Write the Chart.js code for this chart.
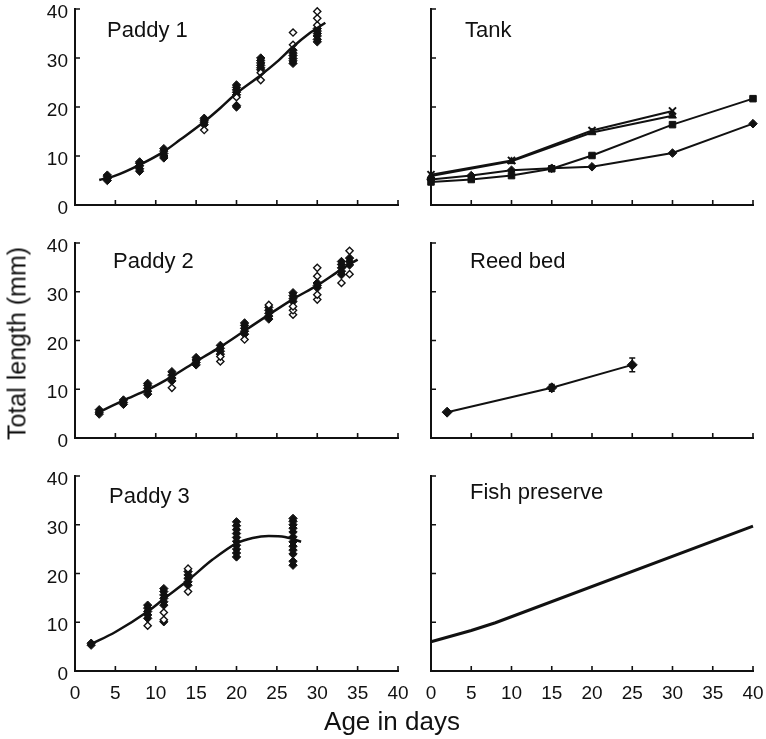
<!DOCTYPE html>
<html><head><meta charset="utf-8">
<script src="https://cdn.jsdelivr.net/npm/chart.js@4.4.0/dist/chart.umd.min.js"></script>
<style>
html,body{margin:0;padding:0;background:#fff;}
#wrap{position:relative;width:766px;height:739px;overflow:hidden;font-family:'Liberation Sans',Arial,Helvetica,sans-serif;color:#111;}
canvas{position:absolute;}
.lbl{position:absolute;font-size:22px;white-space:nowrap;line-height:1;}
.ax{position:absolute;white-space:nowrap;line-height:1;text-align:center;}
</style></head><body>
<div id="wrap">
<canvas id="p1" width="410" height="215" style="left:0;top:0"></canvas>
<canvas id="t1" width="356" height="215" style="left:410px;top:0"></canvas>
<canvas id="p2" width="410" height="220" style="left:0;top:228px"></canvas>
<canvas id="r1" width="356" height="220" style="left:410px;top:228px"></canvas>
<canvas id="p3" width="410" height="279" style="left:0;top:460px"></canvas>
<canvas id="f1" width="356" height="279" style="left:410px;top:460px"></canvas>
<div class="lbl" style="left:107px;top:19px">Paddy 1</div>
<div class="lbl" style="left:465px;top:19px">Tank</div>
<div class="lbl" style="left:113px;top:250px">Paddy 2</div>
<div class="lbl" style="left:470px;top:250px">Reed bed</div>
<div class="lbl" style="left:109px;top:485px">Paddy 3</div>
<div class="lbl" style="left:470px;top:481px">Fish preserve</div>
<div class="ax" style="left:242px;top:708px;width:300px;font-size:26px">Age in days</div>
<div class="ax" style="left:-133px;top:331px;width:300px;font-size:25px;transform:rotate(-90deg)">Total length (mm)</div>
</div>
<script>
// ---- tick labels ----
const xTicks = [0, 5, 10, 15, 20, 25, 30, 35, 40];
const yTicks = [0, 10, 20, 30, 40];

// ---- Paddy 1 ----
const paddy1FitDays = [3, 5, 8, 11, 13, 16, 18, 20, 23, 25, 27, 29, 31];
const paddy1FitLen  = [5.1, 6.0, 8.2, 10.9, 13.3, 17.0, 19.8, 22.8, 26.5, 29.2, 32.3, 35.0, 37.2];
const paddy1Days    = [4, 8, 11, 16, 20, 23, 27, 30];
const paddy1Filled  = [[5.0, 5.4, 5.8, 6.1], [6.9, 7.4, 8.0, 8.5, 8.8], [9.6, 10.0, 10.5, 11.0, 11.5],
                       [16.4, 16.9, 17.3, 17.7], [20.0, 20.3, 22.5, 23.0, 23.5, 24.0, 24.5],
                       [27.6, 28.0, 28.5, 29.0, 29.5, 30.0], [28.9, 29.4, 29.9, 30.5, 31.0, 31.6],
                       [33.3, 33.8, 34.5, 35.0, 35.5, 36.0]];
const paddy1Open    = [[], [], [], [15.3], [22.0], [25.5, 27.0], [32.7, 35.2], [36.7, 38.1, 39.5]];

// ---- Paddy 2 ----
const paddy2FitDays = [3, 6, 9, 12, 15, 18, 21, 24, 27, 30, 33, 35];
const paddy2FitLen  = [5.3, 7.7, 9.9, 12.6, 15.7, 18.7, 22.0, 25.3, 28.5, 31.3, 34.6, 36.6];
const paddy2Days    = [3, 6, 9, 12, 15, 18, 21, 24, 27, 30, 33, 34];
const paddy2Filled  = [[4.9, 5.3, 5.8], [6.9, 7.3, 7.8], [9.0, 9.6, 10.2, 10.8, 11.2], [11.7, 12.3, 12.9, 13.6],
                       [15.0, 15.5, 16.0, 16.5], [17.2, 17.8, 18.4, 19.0], [21.3, 21.9, 22.5, 23.1, 23.6],
                       [24.4, 25.0, 25.6, 26.2, 26.8], [28.0, 28.6, 29.2, 29.8], [30.8, 31.3, 31.8],
                       [33.5, 34.2, 34.9, 35.6, 36.2], [35.5, 36.2, 36.9]];
const paddy2Open    = [[], [], [], [10.3], [], [15.7, 16.7], [20.2], [27.3], [25.3, 26.2, 27.0],
                       [28.4, 29.4, 33.2, 34.9], [31.8], [33.6, 38.4]];

// ---- Paddy 3 ----
const paddy3FitDays = [2, 5, 9, 11, 14, 17, 20, 22, 24, 26, 28];
const paddy3FitLen  = [5.5, 8.0, 12.2, 14.8, 18.6, 22.8, 26.2, 27.3, 27.7, 27.5, 26.5];
const paddy3Days    = [2, 9, 11, 14, 20, 27];
const paddy3Filled  = [[5.3, 5.7], [10.8, 11.5, 12.2, 12.9, 13.5], [10.1, 13.5, 14.2, 14.9, 15.6, 16.3, 16.9],
                       [17.6, 18.3, 19.0, 19.7, 20.4],
                       [23.4, 24.2, 25.0, 25.8, 26.6, 27.4, 28.2, 29.0, 29.8, 30.6],
                       [21.7, 22.5, 24.0, 24.8, 25.6, 26.5, 27.5, 28.5, 29.3, 30.0, 30.7, 31.3]];
const paddy3Open    = [[], [9.3], [10.5, 12.0], [16.3, 21.0], [], []];

// ---- Tank ----
const tankDaysA     = [0, 10, 20, 30];
const tankCross     = [6.2, 9.1, 15.2, 19.2];
const tankTriangle  = [5.9, 8.9, 14.8, 18.2];
const tankDaysB     = [0, 5, 10, 15, 20, 30, 40];
const tankSquare    = [4.7, 5.2, 6.0, 7.4, 10.1, 16.4, 21.7];
const tankDiamond   = [5.2, 6.0, 7.1, 7.5, 7.8, 10.6, 16.6];

// ---- Reed bed ----
const reedDays = [2, 15, 25];
const reedLen  = [5.3, 10.3, 15.0];
const reedErr  = [0, 0.7, 1.4];

// ---- Fish preserve ----
const fishDays = [0, 5, 8, 40];
const fishLen  = [6.0, 8.3, 9.9, 29.7];

const FONT = "'Liberation Sans', Arial, Helvetica, sans-serif";
const INK = '#111';

const zip = (xs, ys) => xs.map((x, i) => ({x, y: ys[i]}));
const cluster = (days, groups) => {
  const out = [];
  days.forEach((d, i) => groups[i].forEach(v => out.push({x: d, y: v})));
  return out;
};

const inwardTicks = {
  id: 'inwardTicks',
  afterDraw(chart) {
    const {ctx, chartArea: a, scales: {x, y}} = chart;
    ctx.save();
    ctx.strokeStyle = INK; ctx.lineWidth = 1.6;
    ctx.beginPath();
    x.ticks.forEach(t => { const px = x.getPixelForValue(t.value); ctx.moveTo(px, a.bottom); ctx.lineTo(px, a.bottom - 5); });
    y.ticks.forEach(t => { const py = y.getPixelForValue(t.value); ctx.moveTo(a.left, py); ctx.lineTo(a.left + 5, py); });
    ctx.stroke();
    ctx.restore();
  }
};

const errorBars = {
  id: 'errorBars',
  afterDatasetsDraw(chart, args, opts) {
    if (!opts.errs) return;
    const {ctx, scales: {x, y}} = chart;
    ctx.save(); ctx.strokeStyle = INK; ctx.lineWidth = 1.5;
    opts.xs.forEach((d, i) => {
      const e = opts.errs[i]; if (!e) return;
      const px = x.getPixelForValue(d);
      const y1 = y.getPixelForValue(opts.ys[i] - e), y2 = y.getPixelForValue(opts.ys[i] + e);
      ctx.beginPath();
      ctx.moveTo(px, y1); ctx.lineTo(px, y2);
      ctx.moveTo(px - 3, y1); ctx.lineTo(px + 3, y1);
      ctx.moveTo(px - 3, y2); ctx.lineTo(px + 3, y2);
      ctx.stroke();
    });
    ctx.restore();
  }
};

function makeChart(id, datasets, cfg) {
  const left = cfg.left;
  new Chart(document.getElementById(id), {
    type: 'scatter',
    data: {datasets},
    plugins: [inwardTicks, errorBars],
    options: {
      responsive: false, animation: false, events: [],
      layout: {padding: {top: cfg.top, right: left ? 12 : 13, left: 0, bottom: 0}},
      plugins: {legend: {display: false}, tooltip: {enabled: false}, errorBars: cfg.err || {}},
      scales: {
        x: {
          type: 'linear', min: 0, max: 40,
          afterBuildTicks: s => { s.ticks = xTicks.map(v => ({value: v})); },
          grid: {display: false, drawTicks: false},
          border: {display: true, color: INK, width: 2},
          ticks: {display: cfg.showX, color: INK, font: {size: 19, family: FONT}, padding: 11, maxRotation: 0, autoSkip: false},
          afterFit: s => { s.height = cfg.xh; s.paddingLeft = 0; s.paddingRight = 0; }
        },
        y: {
          type: 'linear', min: 0, max: 40,
          afterBuildTicks: s => { s.ticks = yTicks.map(v => ({value: v})); },
          grid: {display: false, drawTicks: false},
          border: {display: true, color: INK, width: 2},
          ticks: {display: left, color: INK, font: {size: 19, family: FONT}, padding: 7, labelOffset: 4},
          afterFit: s => { s.width = left ? 75 : 21; s.paddingTop = 0; s.paddingBottom = 0; }
        }
      }
    }
  });
}

function paddySets(fd, fl, days, filled, open) {
  return [
    {type: 'line', data: zip(fd, fl), borderColor: INK, borderWidth: 2.5, pointRadius: 0, cubicInterpolationMode: 'monotone', fill: false, clip: false},
    {data: cluster(days, open), pointStyle: 'rectRot', pointRadius: 3.6, backgroundColor: '#fff', borderColor: INK, borderWidth: 1.4, clip: false},
    {data: cluster(days, filled), pointStyle: 'rectRot', pointRadius: 4.2, backgroundColor: INK, borderColor: INK, borderWidth: 1, clip: false}
  ];
}

makeChart('p1', paddySets(paddy1FitDays, paddy1FitLen, paddy1Days, paddy1Filled, paddy1Open), {left: true, top: 9, xh: 10, showX: false});
makeChart('p2', paddySets(paddy2FitDays, paddy2FitLen, paddy2Days, paddy2Filled, paddy2Open), {left: true, top: 15, xh: 10, showX: false});
makeChart('p3', paddySets(paddy3FitDays, paddy3FitLen, paddy3Days, paddy3Filled, paddy3Open), {left: true, top: 16, xh: 68, showX: true});

const lineSet = (pts, style, r) => ({type: 'line', data: pts, borderColor: INK, borderWidth: 2, pointStyle: style, pointRadius: r,
  backgroundColor: INK, pointBorderColor: INK, pointBackgroundColor: INK, pointBorderWidth: style === 'crossRot' ? 2 : 1, tension: 0, fill: false, clip: false});

makeChart('t1', [
  lineSet(zip(tankDaysA, tankCross), 'crossRot', 5),
  lineSet(zip(tankDaysA, tankTriangle), 'triangle', 4.5),
  lineSet(zip(tankDaysB, tankSquare), 'rect', 4.6),
  lineSet(zip(tankDaysB, tankDiamond), 'rectRot', 4.3)
], {left: false, top: 9, xh: 10, showX: false});

makeChart('r1', [lineSet(zip(reedDays, reedLen), 'rectRot', 5)],
  {left: false, top: 15, xh: 10, showX: false, err: {xs: reedDays, ys: reedLen, errs: reedErr}});

makeChart('f1', [{type: 'line', data: zip(fishDays, fishLen), borderColor: INK, borderWidth: 3, pointRadius: 0, tension: 0, fill: false, clip: false}],
  {left: false, top: 16, xh: 68, showX: true});
</script>
</body></html>
